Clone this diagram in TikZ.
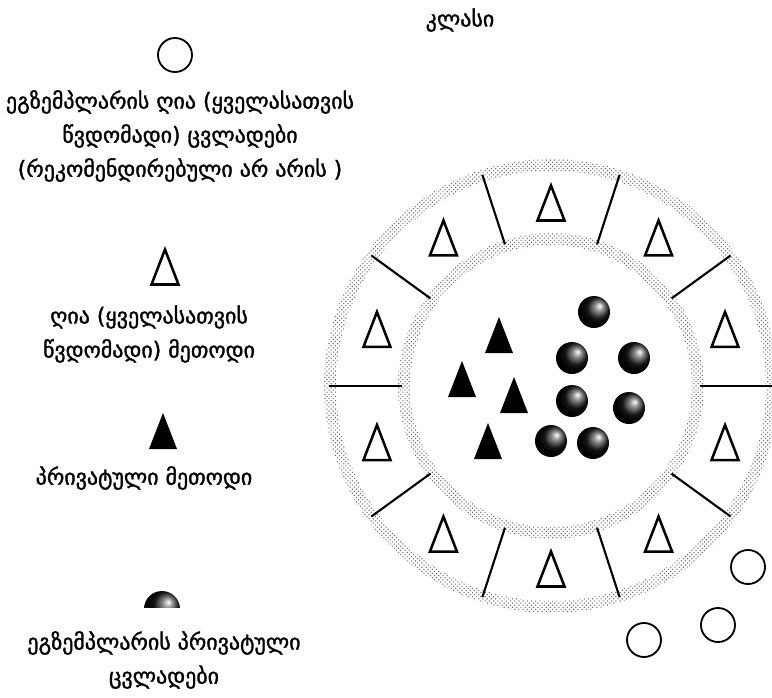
\documentclass[tikz,border=0pt]{standalone}
\usepackage{fontspec}
\setmainfont{DejaVu Sans}
\newfontface\geo{DejaVu Sans}[FakeBold=1.4]
\usepackage{tikz}
\usetikzlibrary{patterns}
\definecolor{stipple}{RGB}{100,100,100}
\pgfdeclareradialshading{darkball}{\pgfqpoint{9bp}{10bp}}{%
  color(0bp)=(white); color(7bp)=(white!55!black); color(17bp)=(black!92);
  color(25bp)=(black); color(50bp)=(black)}
\tikzset{
  lbl/.style    ={font=\geo\fontsize{15.6}{24.2}\selectfont, align=center, inner sep=0pt},
  obj/.style    ={circle, draw, line width=1.3pt, minimum size=0.85cm, inner sep=0pt},
  ball/.style   ={circle, shading=darkball, minimum size=0.8cm, inner sep=0pt},
  band/.style   ={pattern=crosshatch dots, pattern color=stipple, even odd rule},
  divider/.style={line width=1.5pt},
  opentri/.pic  ={\draw[line width=1.8pt, line join=miter]
                   (-13.5,17.5) -- (0,-17.5) -- (13.5,17.5) -- cycle;},
  solidtri/.pic ={\fill (-14,18) -- (0,-18) -- (14,18) -- cycle;}
}

\begin{document}
\begin{tikzpicture}[x=0.025cm, y=-0.025cm]
\useasboundingbox (0,0) rectangle (772,698);

\node[lbl] (title) at (460,20) {კლასი};

% legend
\node[obj] (objkey) at (175,55) {};
\node[lbl] (pubvar) at (180,136)
  {ეგზემპლარის ღია (ყველასათვის\\წვდომადი) ცვლადები\\(რეკომენდირებული არ არის )};
\pic at (165,267) {opentri};
\node[lbl] (pubmeth) at (149,334) {ღია (ყველასათვის\\წვდომადი) მეთოდი};
\pic at (163,431) {solidtri};
\node[lbl] (privmeth) at (144,478) {პრივატული მეთოდი};
\begin{scope}
  \clip (140,590) rectangle (185,607);
  \node[ball, minimum size=0.9cm] (varkey) at (162,609) {};
\end{scope}
\node[lbl] (privvar) at (164,660) {ეგზემპლარის პრივატული\\ცვლადები};

% the object
\coordinate (c) at (551,386);
\fill[band] (c) circle (227) circle (215);
\fill[band] (c) circle (153) circle (141);
\foreach \a in {0,36,...,324}
  \draw[divider] ([shift={(\a:149)}]c) -- ([shift={(\a:222)}]c);
\foreach \a in {18,54,...,342}
  \pic at ([shift={(\a:183)}]c) {opentri};

\foreach \p in {(499,335),(462,379),(514,395),(488,441)}
  \pic at \p {solidtri};
\foreach \p [count=\i] in {(594,312),(572,358),(634,358),(572,401),(629,408),(551,441),(593,443)}
  \node[ball] (v\i) at \p {};

\node[obj] (o1) at (748,567) {};
\node[obj] (o2) at (718,625) {};
\node[obj] (o3) at (644,640) {};
\end{tikzpicture}
\end{document}
